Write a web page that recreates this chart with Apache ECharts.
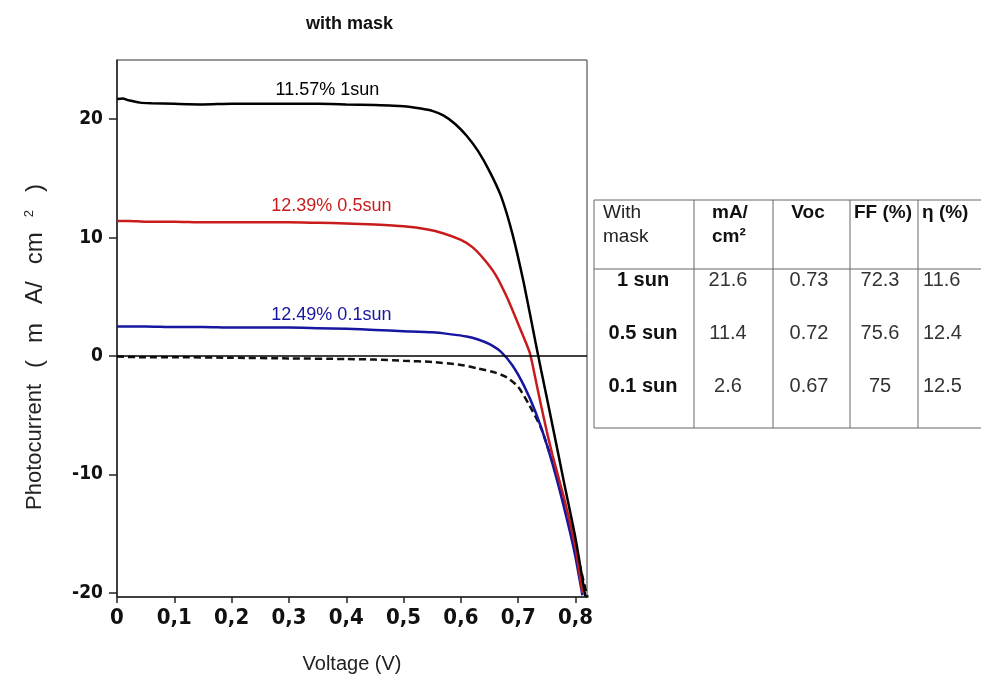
<!DOCTYPE html>
<html><head><meta charset="utf-8">
<script src="https://cdn.jsdelivr.net/npm/echarts@6/dist/echarts.min.js"></script>
<style>html,body{margin:0;padding:0;background:#fff}#chart{width:981px;height:689px}</style>
</head><body><div id="chart"></div>
<script>
// ---- axis ticks ----
const xTicks = [0, 0.1, 0.2, 0.3, 0.4, 0.5, 0.6, 0.7, 0.8];
const yTicks = [-20, -10, 0, 10, 20];

// ---- 1 sun (black) ----
const v1sun = [0, 0.01, 0.02, 0.04, 0.06, 0.1, 0.15, 0.2, 0.25, 0.3, 0.35, 0.4, 0.45, 0.5, 0.53, 0.55, 0.57, 0.59, 0.61, 0.63, 0.65, 0.67, 0.69, 0.71, 0.73, 0.74, 0.76, 0.78, 0.80, 0.817];
const j1sun = [21.7, 21.75, 21.6, 21.4, 21.35, 21.3, 21.25, 21.3, 21.3, 21.3, 21.3, 21.25, 21.2, 21.1, 20.9, 20.7, 20.3, 19.6, 18.6, 17.3, 15.6, 13.5, 10.3, 6.1, 1.2, -1.2, -5.9, -10.7, -15.4, -20.3];

// ---- 0.5 sun (red) ----
const v05sun = [0, 0.02, 0.05, 0.1, 0.15, 0.2, 0.25, 0.3, 0.35, 0.4, 0.45, 0.5, 0.54, 0.57, 0.6, 0.62, 0.64, 0.66, 0.68, 0.70, 0.72, 0.73, 0.74, 0.75, 0.76, 0.77, 0.78, 0.79, 0.80, 0.812];
const j05sun = [11.4, 11.4, 11.35, 11.35, 11.3, 11.3, 11.3, 11.3, 11.25, 11.2, 11.1, 10.95, 10.7, 10.35, 9.8, 9.2, 8.2, 6.9, 5.0, 2.7, 0.3, -1.9, -4.2, -6.4, -8.4, -10.2, -12.0, -14.0, -16.2, -20.0];

// ---- 0.1 sun (blue) ----
const v01sun = [0, 0.05, 0.1, 0.15, 0.2, 0.25, 0.3, 0.35, 0.4, 0.45, 0.5, 0.55, 0.58, 0.61, 0.63, 0.65, 0.67, 0.69, 0.71, 0.73, 0.75, 0.77, 0.79, 0.80, 0.812];
const j01sun = [2.5, 2.5, 2.45, 2.45, 2.4, 2.4, 2.4, 2.35, 2.3, 2.2, 2.1, 2.0, 1.85, 1.65, 1.4, 1.0, 0.35, -0.8, -2.5, -4.7, -7.5, -10.9, -14.8, -17.0, -20.2];

// ---- dark (dashed) ----
const vDark = [0, 0.05, 0.1, 0.2, 0.3, 0.4, 0.45, 0.5, 0.55, 0.6, 0.63, 0.66, 0.68, 0.70, 0.72, 0.74, 0.76, 0.78, 0.80, 0.821];
const jDark = [-0.05, -0.1, -0.1, -0.15, -0.2, -0.25, -0.3, -0.4, -0.5, -0.75, -1.05, -1.4, -1.8, -2.6, -4.2, -6.1, -9.0, -12.5, -16.2, -20.4];

// ---- curve annotations ----
const curveLabels = ['11.57% 1sun', '12.39% 0.5sun', '12.49% 0.1sun'];

// ---- table ----
const tableHead = ['With\nmask', 'mA/\ncm²', 'Voc', 'FF (%)', 'η (%)'];
const rowNames = ['1 sun', '0.5 sun', '0.1 sun'];
const jsc = [21.6, 11.4, 2.6];
const voc = [0.73, 0.72, 0.67];
const ff = [72.3, 75.6, 75];
const eta = [11.6, 12.4, 12.5];

const zip = (a, b) => a.map((v, i) => [v, b[i]]);
const NARROW = "'Liberation Sans Narrow', 'DejaVu Sans Condensed', sans-serif";
const ARIAL = "'Liberation Sans', Arial, sans-serif";

function labelPoint(text, coord, color) {
  return {
    silent: true,
    symbol: 'rect', symbolSize: 1,
    itemStyle: { color: 'rgba(0,0,0,0)' },
    label: { show: true, position: 'inside', formatter: text, fontSize: 18, fontFamily: ARIAL, color: color },
    data: [{ coord: coord }]
  };
}

// ---- table graphics ----
const colX = [594, 694, 773, 850, 918];
const tableRight = 981;
const rowLineY = [200, 269, 428];
const rowTextY = [280, 333, 386];
const g = [];
const lineStyle = { stroke: '#666', lineWidth: 1 };
rowLineY.forEach(y => g.push({ type: 'line', shape: { x1: colX[0], y1: y, x2: tableRight, y2: y }, style: lineStyle }));
colX.forEach(x => g.push({ type: 'line', shape: { x1: x, y1: rowLineY[0], x2: x, y2: rowLineY[2] }, style: lineStyle }));
function txt(text, x, y, align, bold, size, color) {
  g.push({ type: 'text', x: x, y: y, style: {
    text: text, textAlign: align, textVerticalAlign: 'middle',
    font: (bold ? 'bold ' : '') + size + 'px ' + ARIAL, fill: color, lineHeight: 24 } });
}
txt(tableHead[0], 603, 225, 'left', false, 19, '#222');
txt(tableHead[1], 712, 225, 'left', true, 19, '#111');
txt(tableHead[2], 808, 213, 'center', true, 19, '#111');
txt(tableHead[3], 883, 213, 'center', true, 19, '#111');
txt(tableHead[4], 922, 213, 'left', true, 19, '#111');
rowNames.forEach((n, i) => {
  const y = rowTextY[i];
  txt(n, 643, y, 'center', true, 20, '#111');
  txt(String(jsc[i]), 728, y, 'center', false, 20, '#333');
  txt(voc[i].toFixed(2), 809, y, 'center', false, 20, '#333');
  txt(String(ff[i]), 880, y, 'center', false, 20, '#333');
  txt(String(eta[i]), 923, y, 'left', false, 20, '#333');
});

// ---- y axis title (rich, spaced like original) ----
const R = (size, pl, extra) => Object.assign({ fontSize: size, fontFamily: ARIAL, fill: '#222', padding: [0, 0, 0, pl] }, extra || {});
g.push({
  type: 'text', x: 35, y: 347, rotation: Math.PI / 2,
  style: {
    text: '{a|Photocurrent}{b|(}{c|m}{d|A/}{e|cm}{s|2}{f|)}',
    textAlign: 'center', textVerticalAlign: 'middle', fill: '#222',
    font: '22px ' + ARIAL,
    rich: {
      a: R(22, 0),
      b: R(24, 16),
      c: R(24, 17),
      d: R(24, 19),
      e: R(24, 17),
      s: R(13, 15, { verticalAlign: 'top' }),
      f: R(24, 18)
    }
  }
});

const chart = echarts.init(document.getElementById('chart'), null, { renderer: 'canvas' });
chart.setOption({
  animation: false,
  backgroundColor: '#fff',
  title: {
    text: 'with mask', left: 306, top: 15, padding: 0,
    textStyle: { fontSize: 18, fontWeight: 'bold', fontFamily: ARIAL, color: '#111' }
  },
  grid: { left: 117, right: 394, top: 60, bottom: 92, show: true, borderColor: '#333', borderWidth: 1, backgroundColor: 'transparent' },
  xAxis: {
    type: 'value', min: 0, max: 0.82,
    name: 'Voltage (V)', nameLocation: 'middle', nameGap: 57,
    nameTextStyle: { fontSize: 20, fontFamily: ARIAL, color: '#222' },
    axisLine: { show: true, onZero: false, lineStyle: { color: '#222', width: 1.5 } },
    axisTick: { show: true, customValues: xTicks, length: 6, lineStyle: { color: '#222', width: 1.5 } },
    axisLabel: { customValues: xTicks, margin: 10, fontSize: 22, fontWeight: 'bold', fontFamily: NARROW, color: '#111',
      formatter: v => v === 0 ? '0' : v.toFixed(1).replace('.', ',') },
    splitLine: { show: false }
  },
  yAxis: {
    type: 'value', min: -20.35, max: 25,
    axisLine: { show: true, onZero: false, lineStyle: { color: '#222', width: 1.5 } },
    axisTick: { show: true, customValues: yTicks, length: 8, lineStyle: { color: '#222', width: 1.5 } },
    axisLabel: { customValues: yTicks, margin: 14, fontSize: 19, fontWeight: 'bold', fontFamily: NARROW, color: '#111',
      formatter: v => String(v) },
    splitLine: { show: false }
  },
  series: [
    { name: 'dark', type: 'line', data: zip(vDark, jDark), showSymbol: false, smooth: 0.2,
      lineStyle: { color: '#111', width: 2.5, type: [7, 4] }, itemStyle: { color: '#111' } },
    { name: '0.1 sun', type: 'line', data: zip(v01sun, j01sun), showSymbol: false, smooth: 0.2,
      lineStyle: { color: '#1616a0', width: 2.5 }, itemStyle: { color: '#1616a0' },
      markPoint: labelPoint(curveLabels[2], [0.374, 3.45], '#1616a0') },
    { name: '0.5 sun', type: 'line', data: zip(v05sun, j05sun), showSymbol: false, smooth: 0.2,
      lineStyle: { color: '#c81c1c', width: 2.5 }, itemStyle: { color: '#c81c1c' },
      markPoint: labelPoint(curveLabels[1], [0.374, 12.65], '#c81c1c') },
    { name: '1 sun', type: 'line', data: zip(v1sun, j1sun), showSymbol: false, smooth: 0.2,
      lineStyle: { color: '#000', width: 2.5 }, itemStyle: { color: '#000' },
      markPoint: labelPoint(curveLabels[0], [0.367, 22.45], '#000'),
      markLine: { silent: true, symbol: ['none', 'none'], label: { show: false },
        lineStyle: { color: '#000', width: 1.5, type: 'solid' }, data: [{ yAxis: 0 }] } }
  ],
  graphic: g
});
</script></body></html>
